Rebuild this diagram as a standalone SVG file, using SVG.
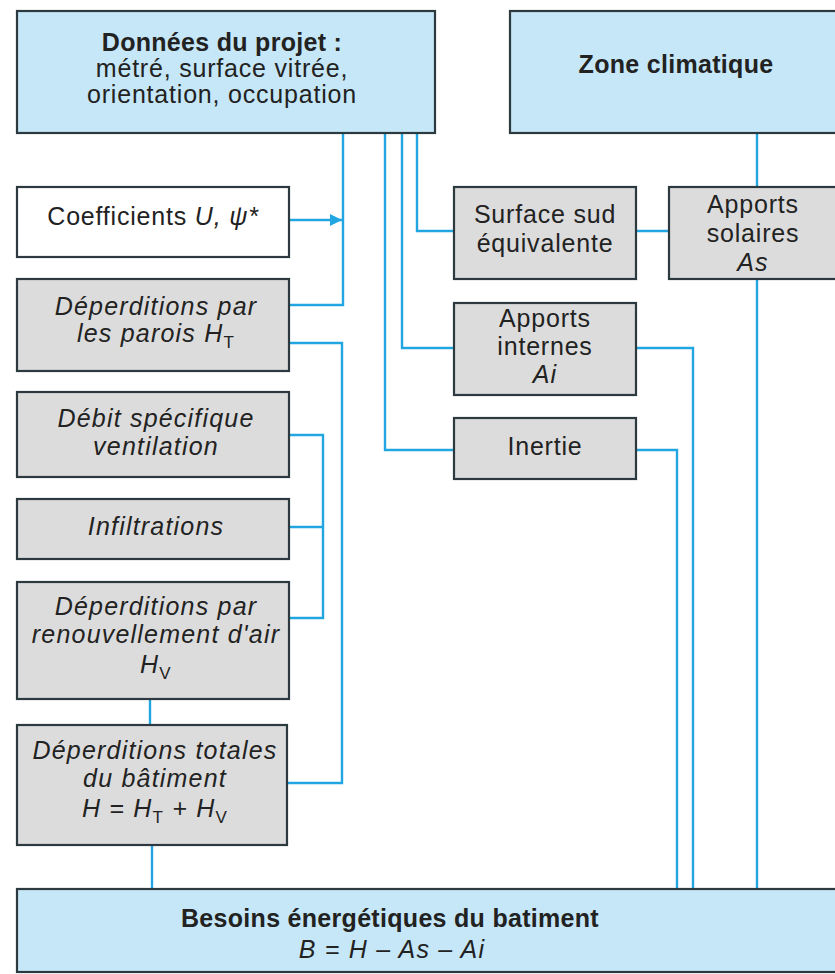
<svg xmlns="http://www.w3.org/2000/svg" width="835" height="974" viewBox="0 0 835 974">
<defs>
<style>
.box{stroke:#2c3a40;stroke-width:2.2}
.blue{fill:#c6e7f7}
.gray{fill:#dcdcdc}
.white{fill:#ffffff}
.t{font-family:"Liberation Sans",Arial,sans-serif;font-size:25px;fill:#222;text-anchor:middle;letter-spacing:0.8px}
.b{font-weight:bold;letter-spacing:0.3px}
.i{font-style:italic;letter-spacing:1.2px}
.sub{font-size:17px;font-style:normal}
.c{fill:none;stroke:#22a6e2;stroke-width:2.4}
</style>
<marker id="arr" viewBox="0 0 10 10" refX="10" refY="5" markerWidth="6" markerHeight="5" markerUnits="strokeWidth" orient="auto">
<path d="M0,0 L10,5 L0,10 z" fill="#22a6e2"/>
</marker>
</defs>
<rect width="835" height="974" fill="#ffffff"/>
<g id="connectors">
<path class="c" d="M343 133 V305 H289"/>
<path class="c" d="M289 220 H342" marker-end="url(#arr)"/>
<path class="c" d="M289 343 H342 V783 H287"/>
<path class="c" d="M417 133 V231 H454"/>
<path class="c" d="M402 133 V348 H454"/>
<path class="c" d="M385 133 V450 H454"/>
<path class="c" d="M636 231 H669"/>
<path class="c" d="M757 133 V187"/>
<path class="c" d="M757 279 V889"/>
<path class="c" d="M636 348 H693 V889"/>
<path class="c" d="M636 450 H677 V889"/>
<path class="c" d="M289 435 H323 V618 H289"/>
<path class="c" d="M289 527 H323"/>
<path class="c" d="M150 699 V725"/>
<path class="c" d="M152 845 V889"/>
</g>
<g id="donnees">
<rect class="box blue" x="17" y="11" width="418" height="122"/>
<text class="t b" x="222" y="51">Données du projet :</text>
<text class="t" x="222" y="77">métré, surface vitrée,</text>
<text class="t" x="222" y="103">orientation, occupation</text>
</g>
<g id="zone">
<rect class="box blue" x="510" y="11" width="340" height="122"/>
<text class="t b" x="676" y="73">Zone climatique</text>
</g>
<g id="coefficients">
<rect class="box white" x="17" y="187" width="272" height="70"/>
<text class="t" x="153" y="225">Coefficients <tspan font-style="italic">U, ψ*</tspan></text>
</g>
<g id="deperditions-parois">
<rect class="box gray" x="17" y="279" width="272" height="92"/>
<text class="t i" x="156" y="315">Déperditions par</text>
<text class="t i" x="156" y="342">les parois H<tspan class="sub" dy="6">T</tspan></text>
</g>
<g id="debit">
<rect class="box gray" x="17" y="392" width="272" height="85"/>
<text class="t i" x="156" y="427">Débit spécifique</text>
<text class="t i" x="156" y="455">ventilation</text>
</g>
<g id="infiltrations">
<rect class="box gray" x="17" y="499" width="272" height="60"/>
<text class="t i" x="156" y="535">Infiltrations</text>
</g>
<g id="deperditions-air">
<rect class="box gray" x="17" y="582" width="272" height="117"/>
<text class="t i" x="156" y="615">Déperditions par</text>
<text class="t i" x="156" y="643">renouvellement d'air</text>
<text class="t i" x="156" y="673">H<tspan class="sub" dy="6">V</tspan></text>
</g>
<g id="deperditions-totales">
<rect class="box gray" x="17" y="725" width="270" height="120"/>
<text class="t i" x="155" y="759">Déperditions totales</text>
<text class="t i" x="155" y="787">du bâtiment</text>
<text class="t i" x="155" y="817">H = H<tspan class="sub" dy="6">T</tspan><tspan dy="-6"> + H</tspan><tspan class="sub" dy="6">V</tspan></text>
</g>
<g id="surface-sud">
<rect class="box gray" x="454" y="187" width="182" height="92"/>
<text class="t" x="545" y="223">Surface sud</text>
<text class="t" x="545" y="252">équivalente</text>
</g>
<g id="apports-solaires">
<rect class="box gray" x="669" y="187" width="180" height="92"/>
<text class="t" x="753" y="213">Apports</text>
<text class="t" x="753" y="242">solaires</text>
<text class="t i" x="753" y="271">As</text>
</g>
<g id="apports-internes">
<rect class="box gray" x="454" y="303" width="182" height="92"/>
<text class="t" x="545" y="327">Apports</text>
<text class="t" x="545" y="355">internes</text>
<text class="t i" x="545" y="383">Ai</text>
</g>
<g id="inertie">
<rect class="box gray" x="454" y="418" width="182" height="61"/>
<text class="t" x="545" y="455">Inertie</text>
</g>
<g id="besoins">
<rect class="box blue" x="17" y="889" width="830" height="83"/>
<text class="t b" x="390" y="927">Besoins énergétiques du batiment</text>
<text class="t i" x="392" y="958" letter-spacing="0.6px">B = H – As – Ai</text>
</g>
</svg>
